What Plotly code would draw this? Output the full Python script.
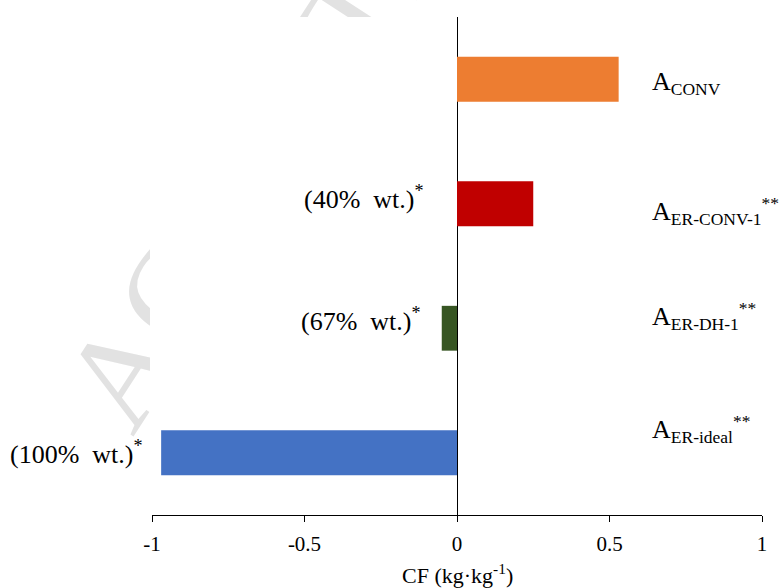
import plotly.graph_objects as go

categories = ["A_CONV", "A_ER-CONV-1", "A_ER-DH-1", "A_ER-ideal"]
cf_values = [0.53, 0.25, -0.05, -0.97]
bar_colors = ["#ED7D31", "#C00000", "#375623", "#4472C4"]
A = '<span style="font-size:26px">A</span>'
right_labels = [A + "<sub>CONV</sub>", A + "<sub>ER-CONV-1</sub><sup>**</sup>",
                A + "<sub>ER-DH-1</sub><sup>**</sup>", A + "<sub>ER-ideal</sub><sup>**</sup>"]
left_labels = [None, "(40%&nbsp; wt.)<sup>*</sup>", "(67%&nbsp; wt.)<sup>*</sup>",
               "(100%&nbsp; wt.)<sup>*</sup>"]
tick_vals = [-1, -0.5, 0, 0.5, 1]
tick_text = ["-1", "-0.5", "0", "0.5", "1"]

FONT = "Liberation Serif, Times New Roman, serif"

fig = go.Figure()
fig.add_trace(go.Bar(
    x=cf_values, y=categories, orientation="h",
    marker=dict(color=bar_colors, line=dict(width=0)),
    width=0.36, hoverinfo="x+y",
))

W, H = 780, 588
ml, mr, mt, mb = 152, 18, 17, 73
pw, ph = W - ml - mr, H - mt - mb

def px(x):
    return (x - ml) / pw

def py(y):
    return (H - mb - y) / ph

shapes = [
    # watermark (behind the plot area)
    dict(type="rect", xref="paper", yref="paper", layer="below",
         x0=px(517), x1=px(519), y0=py(-266), y1=py(-268),
         line=dict(width=0), fillcolor="rgba(0,0,0,0)",
         label=dict(text="ACCEPTED MANUSCRIPT", textangle=-57,
                    textposition="middle center",
                    font=dict(family=FONT, size=135, color="#e2e2e2"))),
    # white plot-area box covering the watermark
    dict(type="rect", xref="paper", yref="paper", layer="below",
         x0=px(150), x1=px(780), y0=py(588), y1=py(17),
         line=dict(width=0), fillcolor="white"),
]

annotations = []
right_shift = [-4, -7, 12, 24]
for cat, lab, ys in zip(categories, right_labels, right_shift):
    annotations.append(dict(x=0.632, y=cat, xref="x", yref="y", text=lab,
                            showarrow=False, xanchor="left", yanchor="middle",
                            yshift=ys, font=dict(family=FONT, size=25, color="black")))
left_x = [None, px(426), px(423), px(145)]
left_shift = [0, 6, 9, 0]
for cat, lab, lx, ys in zip(categories, left_labels, left_x, left_shift):
    if lab is None:
        continue
    annotations.append(dict(x=lx, y=cat, xref="paper", yref="y", text=lab,
                            showarrow=False, xanchor="right", yanchor="middle",
                            yshift=ys, font=dict(family=FONT, size=26, color="black")))
annotations.append(dict(x=0.5, y=py(574), xref="paper", yref="paper",
                        text="CF (kg·kg<sup>-1</sup>)", showarrow=False,
                        xanchor="center", yanchor="middle",
                        font=dict(family=FONT, size=22, color="black")))

fig.update_layout(
    width=W, height=H,
    margin=dict(l=ml, r=mr, t=mt, b=mb, pad=0),
    paper_bgcolor="white", plot_bgcolor="rgba(0,0,0,0)",
    showlegend=False,
    shapes=shapes, annotations=annotations,
    font=dict(family=FONT, color="black"),
    xaxis=dict(range=[-1, 1], tickvals=tick_vals, ticktext=tick_text,
               showgrid=False, zeroline=True, zerolinecolor="black", zerolinewidth=1,
               showline=True, linecolor="black", linewidth=1,
               ticks="outside", ticklen=6, tickcolor="black", tickwidth=1,
               ticklabelstandoff=4,
               tickfont=dict(family=FONT, size=21, color="black"),
               fixedrange=True),
    yaxis=dict(categoryorder="array", categoryarray=categories[::-1],
               range=[-0.5, 3.5], showgrid=False, zeroline=False,
               showticklabels=False, ticks="", showline=False, fixedrange=True),
)

fig.write_html("out.html", config={"displayModeBar": False},
               post_script="document.body.style.margin='0';document.body.style.padding='0';")
